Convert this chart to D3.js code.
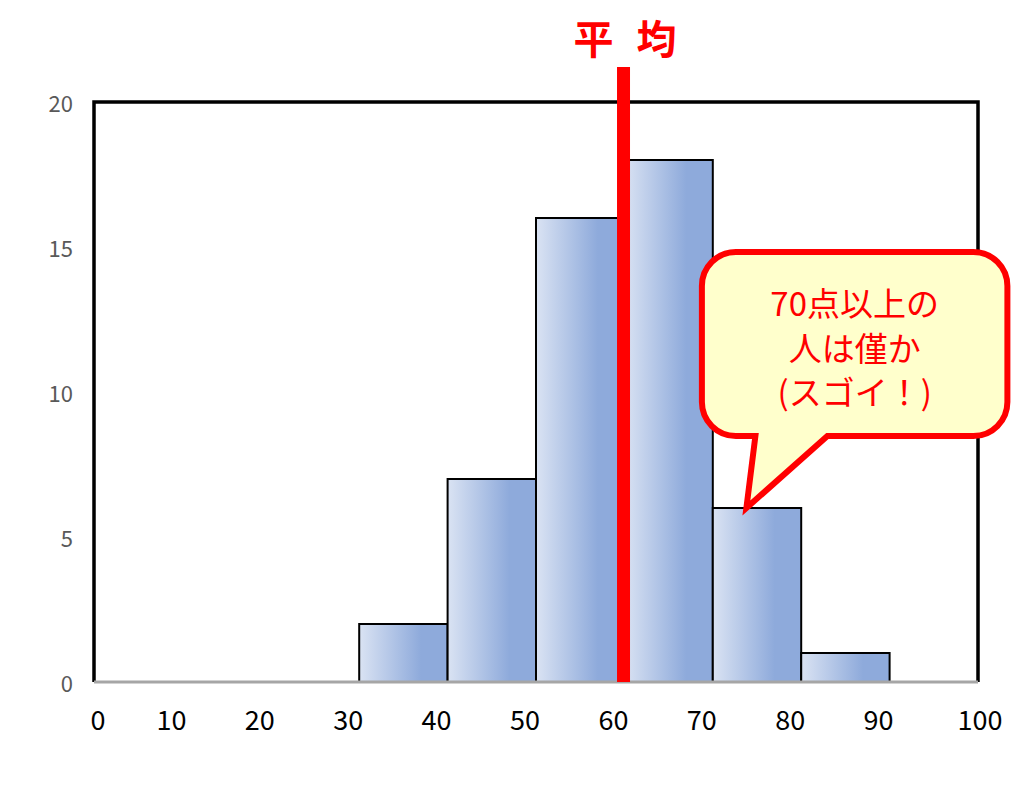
<!DOCTYPE html>
<html>
<head>
<meta charset="utf-8">
<script src="https://cdn.jsdelivr.net/npm/d3@7"></script>
<style>
  html, body { margin: 0; padding: 0; background: #ffffff; }
  svg { display: block; }
  text { font-family: "Noto Sans CJK JP", "Noto Sans", sans-serif; }
</style>
</head>
<body>
<svg id="chart" width="1024" height="785"></svg>
<script>
// ---- data ----
const binStarts = [0, 10, 20, 30, 40, 50, 60, 70, 80, 90];
const counts    = [0, 0, 0, 2, 7, 16, 18, 6, 1, 0];
const binWidth = 10;
const meanScore = 59.9;
const xTickValues = [0, 10, 20, 30, 40, 50, 60, 70, 80, 90, 100];
const yTickValues = [0, 5, 10, 15, 20];
const titleText = "平 均";
const calloutLines = ["70点以上の", "人は僅か", "(スゴイ！)"];
const calloutTarget = [73.8, 6];

// ---- layout ----
const svg = d3.select("#chart");
const plot = { left: 94, right: 978, top: 102, bottom: 682 };
const x = d3.scaleLinear().domain([0, 100]).range([plot.left, plot.right]);
const y = d3.scaleLinear().domain([0, 20]).range([plot.bottom, plot.top]);

// gradient
const defs = svg.append("defs");
const grad = defs.append("linearGradient").attr("id", "barGrad")
  .attr("x1", "0%").attr("x2", "100%").attr("y1", "0%").attr("y2", "0%");
grad.append("stop").attr("offset", "0%").attr("stop-color", "#dae3f3");
grad.append("stop").attr("offset", "70%").attr("stop-color", "#8eaadb");
grad.append("stop").attr("offset", "100%").attr("stop-color", "#8eaadb");

// frame (top, left, right)
svg.append("path")
  .attr("d", `M${x(0)},${y(0)} V${y(20)} H${x(100)} V${y(0)}`)
  .attr("fill", "none").attr("stroke", "#000").attr("stroke-width", 3.5);

// bars
const bins = binStarts.map((s, i) => ({ start: s, count: counts[i] })).filter(d => d.count > 0);
svg.append("g").selectAll("rect").data(bins).join("rect")
  .attr("x", d => x(d.start))
  .attr("y", d => y(d.count))
  .attr("width", d => x(d.start + binWidth) - x(d.start))
  .attr("height", d => y(0) - y(d.count))
  .attr("fill", "url(#barGrad)")
  .attr("stroke", "#000").attr("stroke-width", 2);

// bottom axis line
svg.append("line")
  .attr("x1", x(0)).attr("x2", x(100)).attr("y1", y(0)).attr("y2", y(0))
  .attr("stroke", "#a6a6a6").attr("stroke-width", 3);

// y tick labels
svg.append("g").selectAll("text").data(yTickValues).join("text")
  .attr("x", x(0) - 21)
  .attr("y", d => y(d))
  .attr("text-anchor", "end")
  .attr("dominant-baseline", "central")
  .attr("font-size", 22)
  .attr("fill", "#595959")
  .text(d => d);

// x tick labels
function labelX(v) {
  if (v === 0) return x(v) + 4;
  if (v === 100) return x(v) + 2;
  return x(v) - 11;
}
svg.append("g").selectAll("text").data(xTickValues).join("text")
  .attr("x", d => labelX(d))
  .attr("y", y(0) + 48)
  .attr("text-anchor", "middle")
  .attr("font-size", 27)
  .attr("fill", "#000")
  .text(d => d);

// mean line
svg.append("line")
  .attr("x1", x(meanScore)).attr("x2", x(meanScore))
  .attr("y1", y(0)).attr("y2", y(20) - 35)
  .attr("stroke", "#ff0000").attr("stroke-width", 13);

// title
svg.append("text")
  .attr("x", x(meanScore) + 5)
  .attr("y", 37)
  .attr("text-anchor", "middle")
  .attr("dominant-baseline", "central")
  .attr("font-size", 40)
  .attr("font-weight", "bold")
  .attr("letter-spacing", 7)
  .attr("fill", "#ff0000")
  .style("white-space", "pre")
  .text(titleText);

// callout
const tipX = x(calloutTarget[0]), tipY = y(calloutTarget[1]);
const L = tipX - 44.5, R = tipX + 261, T = tipY - 256, B = tipY - 72, r = 34;
const bl = tipX + 9, br = tipX + 81;
const calloutPath = `M${L + r},${T} H${R - r} A${r},${r} 0 0 1 ${R},${T + r} V${B - r} A${r},${r} 0 0 1 ${R - r},${B} ` +
  `H${br} L${tipX},${tipY} L${bl},${B} H${L + r} A${r},${r} 0 0 1 ${L},${B - r} V${T + r} A${r},${r} 0 0 1 ${L + r},${T} Z`;
svg.append("path")
  .attr("d", calloutPath)
  .attr("fill", "#ffffcc")
  .attr("stroke", "#ff0000")
  .attr("stroke-width", 6)
  .attr("stroke-linejoin", "miter");

const cx = (L + R) / 2;
svg.append("g").selectAll("text").data(calloutLines).join("text")
  .attr("x", cx)
  .attr("y", (d, i) => T + 50 + i * 44.5)
  .attr("text-anchor", "middle")
  .attr("dominant-baseline", "central")
  .attr("font-size", 33)
  .attr("fill", "#ff0000")
  .text(d => d);
</script>
</body>
</html>
